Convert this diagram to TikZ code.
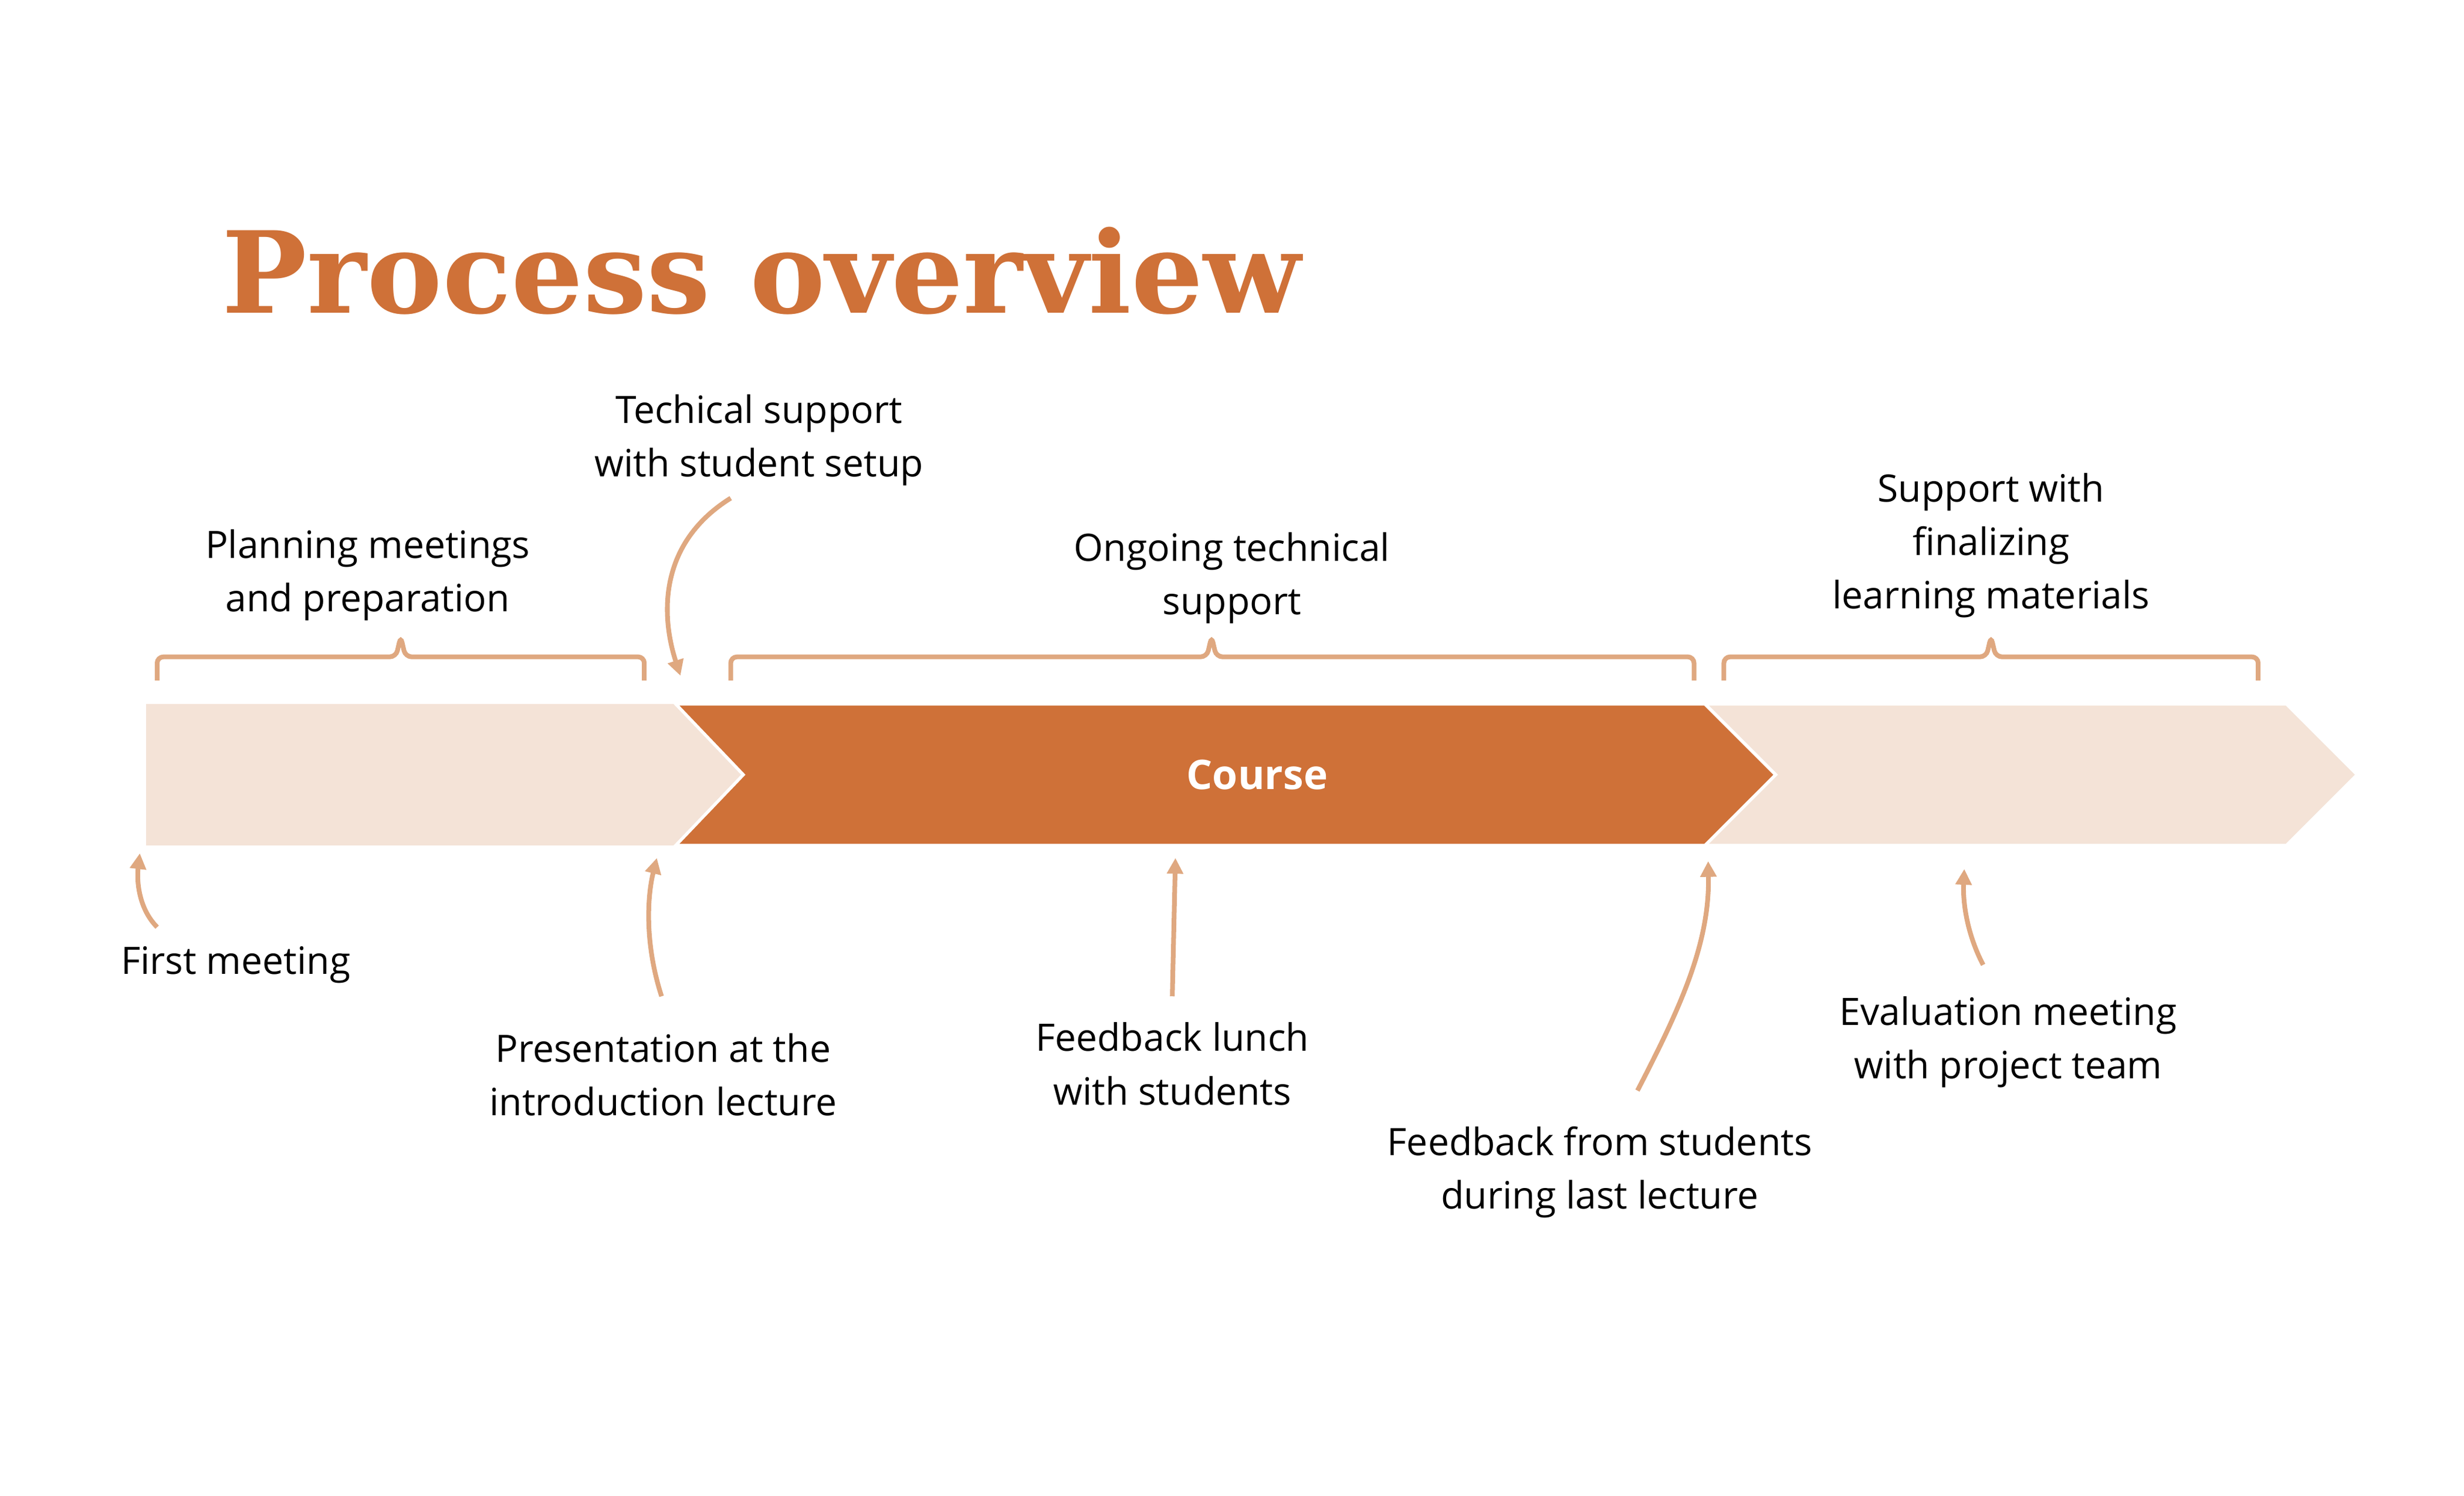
\documentclass[tikz,border=0pt]{standalone}
\usepackage{fontspec}
\setmainfont{Open Sans}
\newfontfamily\titlefont{DejaVu Serif}
\usetikzlibrary{arrows.meta}
\definecolor{dark}{HTML}{CF7138}
\definecolor{light}{HTML}{F4E3D7}
\definecolor{line}{HTML}{DFA880}
\tikzset{
 lbl/.style={align=center,font=\fontsize{12}{17}\selectfont,text=black},
 brace/.style={draw=line,line width=1.5pt},
 arr/.style={draw=line,line width=1.5pt,-{Triangle[length=5pt,width=5pt]}},
}
\begin{document}
\begin{tikzpicture}[x=0.5pt,y=-0.5pt]
\useasboundingbox (0,0) rectangle (1568,952);
\node[anchor=base west,inner sep=0,text=dark,font=\titlefont\bfseries\fontsize{36}{40}\selectfont] (title) at (141,199) {Process overview};
% chevrons
\fill[light] (93,448) -- (430,448) -- (473,493) -- (430,538) -- (93,538) -- cycle;
\fill[dark,draw=white,line width=1pt] (430,448) -- (1085,448) -- (1130,493) -- (1085,538) -- (430,538) -- (473,493) -- cycle;
\fill[light,draw=white,line width=1pt] (1085,448) -- (1455,448) -- (1500,493) -- (1455,538) -- (1085,538) -- (1130,493) -- cycle;
\node[text=white,font=\bfseries\fontsize{13}{15}\selectfont] (course) at (800,493) {Course};
% braces
\foreach \a/\m/\b in {100/255/410, 465/771/1078, 1097/1267/1437}{
 \draw[brace,rounded corners=2pt] (\a,433) -- (\a,418) -- (\m-3,418) -- (\m,405) -- (\m+3,418) -- (\b,418) -- (\b,433);
}
% labels
\node[lbl] (plan) at (234,366) {Planning meetings\\and preparation};
\node[lbl] (tech) at (483,280) {Techical support\\with student setup};
\node[lbl] (ongo) at (784,368) {Ongoing technical\\support};
\node[lbl] (fin) at (1267,347) {Support with\\finalizing\\learning materials};
\node[lbl] (first) at (150,614) {First meeting};
\node[lbl] (pres) at (422,684) {Presentation at the\\introduction lecture};
\node[lbl] (lunch) at (746,677) {Feedback lunch\\with students};
\node[lbl] (last) at (1018,746) {Feedback from students\\during last lecture};
\node[lbl] (eval) at (1278,663) {Evaluation meeting\\with project team};
% arrow coordinates
\coordinate (t0) at (465,317); \coordinate (t1) at (433,430);
\coordinate (f0) at (100,590); \coordinate (f1) at (89,543);
\coordinate (p0) at (421,634); \coordinate (p1) at (418,546);
\coordinate (l0) at (746,634); \coordinate (l1) at (748,546);
\coordinate (d0) at (1042,694); \coordinate (d1) at (1087,548);
\coordinate (e0) at (1262,614); \coordinate (e1) at (1250,553);
\draw[arr] (t0) .. controls (420,345) and (420,390) .. (t1);
\draw[arr] (f0) .. controls (88,578) and (87,560) .. (f1);
\draw[arr] (p0) .. controls (410,600) and (412,570) .. (p1);
\draw[arr] (l0) -- (l1);
\draw[arr] (d0) .. controls (1070,640) and (1088,600) .. (d1);
\draw[arr] (e0) .. controls (1252,595) and (1249,575) .. (e1);
\end{tikzpicture}
\end{document}
